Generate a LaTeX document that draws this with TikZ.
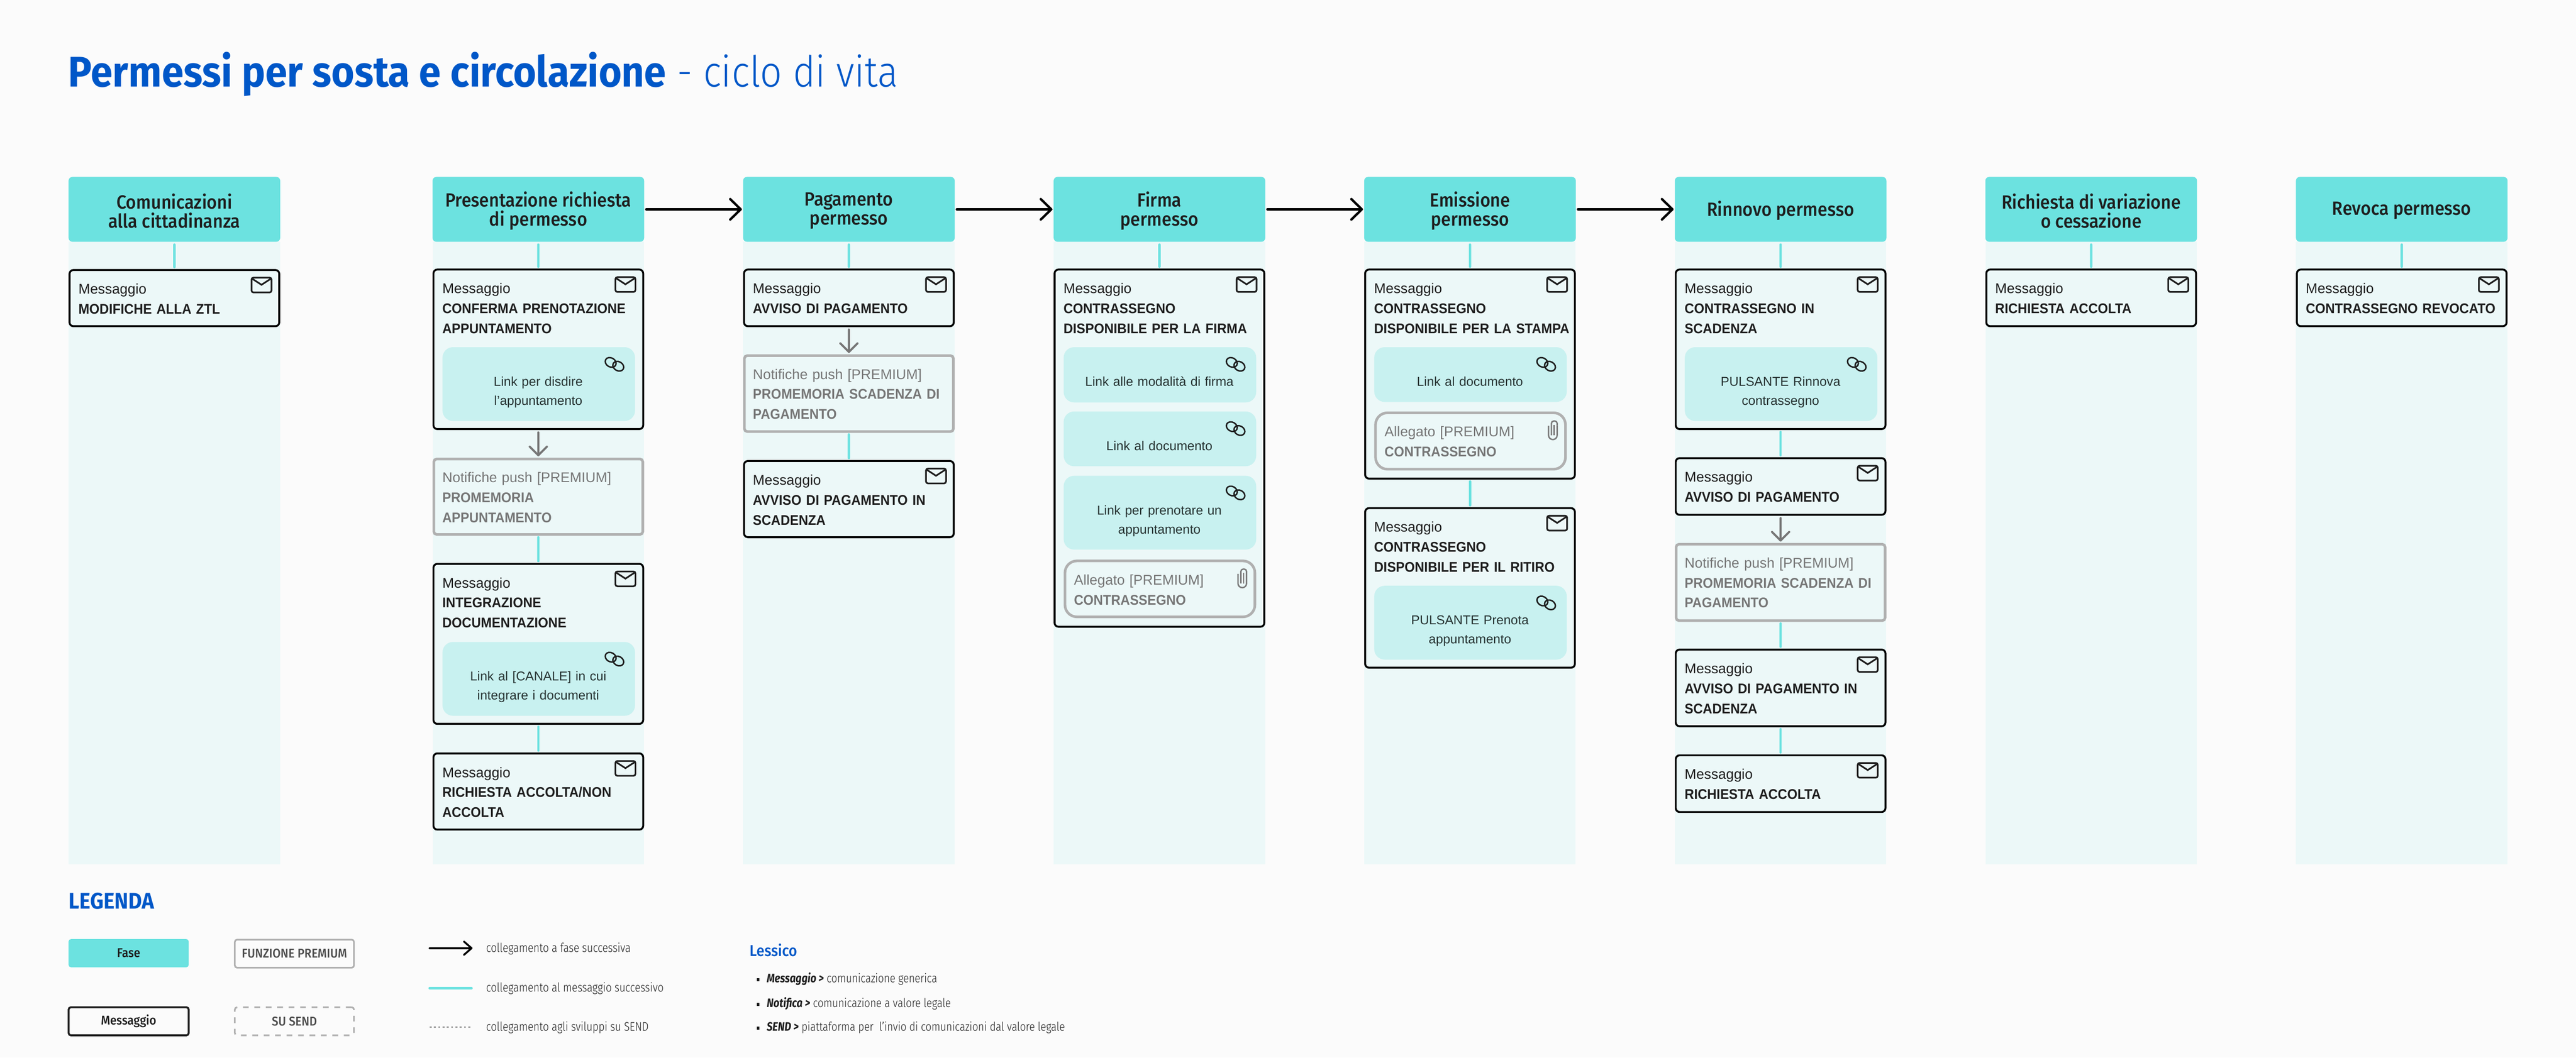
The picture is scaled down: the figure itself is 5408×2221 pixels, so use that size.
\documentclass[tikz,border=0pt]{standalone}
\usepackage{fontspec}
\setmainfont{Liberation Sans}
\newfontfamily\boldfont[FakeStretch=0.93]{Liberation Sans}
\newfontfamily\titlefont[FakeStretch=0.92]{Fira Sans}
\newfontfamily\headfont[FakeStretch=0.915]{Fira Sans Medium}
\newfontfamily\lessfont[FakeStretch=0.84]{Fira Sans}
\newfontfamily\lightfont[FakeStretch=0.84]{Fira Sans Light}
\newfontfamily\sublightfont[FakeStretch=0.895]{Fira Sans Light}
\usetikzlibrary{arrows.meta,positioning}
\definecolor{sfondo}{HTML}{FBFBFB}
\definecolor{colonna}{HTML}{ECF8F8}
\definecolor{acqua}{HTML}{6CE2E0}
\definecolor{linkcol}{HTML}{C8F1F0}
\definecolor{blu}{HTML}{0057C8}
\definecolor{testo}{HTML}{1E1E1E}
\definecolor{grigio}{HTML}{B0B0B0}
\definecolor{grigiotxt}{HTML}{767676}
\tikzset{
  fase/.style={anchor=north west, fill=acqua, rounded corners=.08cm, minimum width=4.44cm, minimum height=1.36cm, inner sep=0pt, outer sep=0pt},
  fasetxt/.style={inner sep=0pt, yshift=-.03cm, align=center, text=testo, font=\headfont\fontsize{11.4}{11.3}\selectfont},
  msg/.style={anchor=north west, draw=black, line width=.04cm, rounded corners=.08cm, minimum width=4.4cm, inner sep=0pt, outer sep=0pt},
  prem/.style={anchor=north west, draw=grigio, line width=.055cm, rounded corners=.06cm, minimum width=4.385cm, inner sep=0pt, outer sep=0pt},
  allegato/.style={anchor=north west, draw=grigio, line width=.055cm, rounded corners=.25cm, minimum width=3.985cm, inner sep=0pt, outer sep=0pt},
  linkbox/.style={anchor=north west, fill=linkcol, rounded corners=.22cm, minimum width=4.04cm, inner sep=0pt, outer sep=0pt},
  msgtxt/.style={anchor=north west, inner sep=0pt, text width=4.22cm, align=left, text=testo, font=\fontsize{8.4}{11.95}\selectfont},
  linktxt/.style={anchor=north, inner sep=0pt, text width=3.9cm, align=center, text={testo!90!acqua}, font=\fontsize{7.7}{11.38}\selectfont},
  freccia/.style={line width=.05cm, line cap=round, black, shorten <=.045cm, shorten >=.025cm, -{Straight Barb[length=.22cm,width=.43cm,round]}},
  frecciagr/.style={line width=.045cm, line cap=round, grigiotxt, shorten <=.07cm, shorten >=.055cm, -{Straight Barb[length=.18cm,width=.36cm,round]}},
  tratto/.style={line width=.05cm, line cap=round, acqua, shorten <=.06cm, shorten >=.06cm},
  icona/.style={draw=testo, line width=.035cm},
  legtxt/.style={anchor=base west, inner sep=0pt, text=testo, font=\lightfont\fontsize{7.4}{9}\selectfont},
  lestxt/.style={anchor=base west, inner sep=0pt, text=testo, font=\lightfont\fontsize{7.3}{9}\selectfont},
  legbox/.style={anchor=north west, inner sep=0pt, outer sep=0pt, minimum height=.59cm, font=\headfont\fontsize{7.6}{9}\selectfont},
  busta/.pic={
    \draw[icona, rounded corners=.04cm] (0,0) -- (0,31) -- (42,31) -- (42,0) -- cycle;
    \draw[icona] (1,2) -- (21,15) -- (41,2);
  },
  catena/.pic={
    \draw[icona, line width=.03cm] (13,12) ellipse [x radius=12, y radius=9.5, rotate=-30];
    \draw[icona, line width=.03cm] (29,20) ellipse [x radius=12, y radius=9.5, rotate=-30];
  },
  graffetta/.pic={
    \draw[grigio!70!black, line width=.03cm, rounded corners=.09cm] (1,10) -- (1,39) -- (19,39) -- (19,10);
    \draw[grigio!70!black, line width=.03cm, rounded corners=.05cm] (7,30) -- (7,0) -- (19,0) -- (19,10);
    \draw[grigio!70!black, line width=.03cm] (13,8) -- (13,30);
  }
}
% nome, colonna, alto, basso, testo
\newcommand{\msgbox}[5]{
  \node[msg, minimum height={(#4-#3-4)*0.01cm}] (#1) at (#2+2,#3+2) {};
  \node[msgtxt] (#1txt) at (#2+20,#3+22) {\strut Messaggio\\{\boldfont\bfseries #5}};
  \pic at (#2+384,#3+18) {busta};
}
\newcommand{\prembox}[5]{
  \node[prem, minimum height={(#4-#3-5.5)*0.01cm}] (#1) at (#2+2.75,#3+2.75) {};
  \node[msgtxt, text=grigiotxt] (#1txt) at (#2+20,#3+22) {\strut Notifiche push [PREMIUM]\\{\boldfont\bfseries #5}};
}
\newcommand{\collega}[5]{
  \node[linkbox, minimum height={(#4-#3)*0.01cm}] (#1) at (#2+21,#3) {};
  \node[linktxt] (#1txt) at (#2+222,#3+53) {\strut #5};
  \pic at (#2+361,#3+20) {catena};
}
\newcommand{\allegatobox}[4]{
  \node[allegato, minimum height={(#4-#3-5.5)*0.01cm}] (#1) at (#2+23.75,#3+2.75) {};
  \node[msgtxt, text=grigiotxt] (#1txt) at (#2+42,#3+23) {\strut Allegato [PREMIUM]\\{\boldfont\bfseries CONTRASSEGNO}};
  \pic at (#2+386,#3+20) {graffetta};
}
\begin{document}
\begin{tikzpicture}[x=0.01cm, y=-0.01cm]
  \fill[sfondo] (0,0) rectangle (5408,2221);
  \node[anchor=base west, inner sep=0pt, text=blu, font=\titlefont\bfseries\fontsize{25.6}{30}\selectfont] (titolo) at (143,182) {Permessi per sosta e circolazione};
  \node[anchor=base west, inner sep=0pt, text=blu, font=\sublightfont\fontsize{25.6}{30}\selectfont] (sottotitolo) at (1421,182) {- ciclo di vita};

  % colonne e fasi
  \foreach \x/\name/\head in {144/com/{Comunicazioni\\alla cittadinanza},908/pres/{Presentazione richiesta\\di permesso},1560/pag/{Pagamento\\permesso},2212/fir/{Firma\\permesso},2864/emi/{Emissione\\permesso},3516/rin/{Rinnovo permesso},4168/var/{Richiesta di variazione\\o cessazione},4820/rev/{Revoca permesso}}{
    \fill[colonna] (\x,507) rectangle (\x+444,1815);
    \node[fase] (\name) at (\x,371.5) {};
    \node[fasetxt] (\name txt) at (\name) {\head};
  }
  \foreach \a/\b in {pres/pag,pag/fir,fir/emi,emi/rin}{\draw[freccia] (\a) -- (\b);}

  % messaggi
  \msgbox{com1}{144}{565}{687}{MODIFICHE ALLA ZTL}

  \msgbox{pres1}{908}{564}{903}{CONFERMA PRENOTAZIONE\\APPUNTAMENTO}
  \collega{pres1a}{908}{729}{884}{Link per disdire\\l’appuntamento}
  \prembox{pres2}{908}{961}{1125}{PROMEMORIA\\APPUNTAMENTO}
  \msgbox{pres3}{908}{1182}{1522}{INTEGRAZIONE\\DOCUMENTAZIONE}
  \collega{pres3a}{908}{1348}{1503}{Link al [CANALE] in cui\\integrare i documenti}
  \msgbox{pres4}{908}{1580}{1744}{RICHIESTA ACCOLTA/NON\\ACCOLTA}

  \msgbox{pag1}{1560}{564}{687}{AVVISO DI PAGAMENTO}
  \prembox{pag2}{1560}{744}{909}{PROMEMORIA SCADENZA DI\\PAGAMENTO}
  \msgbox{pag3}{1560}{966}{1130}{AVVISO DI PAGAMENTO IN\\SCADENZA}

  \msgbox{fir1}{2212}{564}{1318}{CONTRASSEGNO\\DISPONIBILE PER LA FIRMA}
  \collega{fir1a}{2212}{729}{845}{Link alle modalità di firma}
  \collega{fir1b}{2212}{864}{979}{Link al documento}
  \collega{fir1c}{2212}{999}{1154}{Link per prenotare un\\appuntamento}
  \allegatobox{fir1d}{2212}{1175}{1298}

  \msgbox{emi1}{2864}{564}{1007}{CONTRASSEGNO\\DISPONIBILE PER LA STAMPA}
  \collega{emi1a}{2864}{729}{844}{Link al documento}
  \allegatobox{emi1b}{2864}{864}{988}
  \msgbox{emi2}{2864}{1065}{1404}{CONTRASSEGNO\\DISPONIBILE PER IL RITIRO}
  \collega{emi2a}{2864}{1230}{1385}{PULSANTE Prenota\\appuntamento}

  \msgbox{rin1}{3516}{564}{903}{CONTRASSEGNO IN\\SCADENZA}
  \collega{rin1a}{3516}{729}{884}{PULSANTE Rinnova\\contrassegno}
  \msgbox{rin2}{3516}{960}{1083}{AVVISO DI PAGAMENTO}
  \prembox{rin3}{3516}{1140}{1306}{PROMEMORIA SCADENZA DI\\PAGAMENTO}
  \msgbox{rin4}{3516}{1362}{1527}{AVVISO DI PAGAMENTO IN\\SCADENZA}
  \msgbox{rin5}{3516}{1584}{1707}{RICHIESTA ACCOLTA}

  \msgbox{var1}{4168}{564}{687}{RICHIESTA ACCOLTA}
  \msgbox{rev1}{4820}{564}{687}{CONTRASSEGNO REVOCATO}

  % collegamenti
  \foreach \a/\b in {com/com1,pres/pres1,pres2/pres3,pres3/pres4,pag/pag1,pag2/pag3,fir/fir1,emi/emi1,emi1/emi2,rin/rin1,rin1/rin2,rin3/rin4,rin4/rin5,var/var1,rev/rev1}{\draw[tratto] (\a) -- (\b);}
  \foreach \a/\b in {pres1/pres2,pag1/pag2,rin2/rin3}{\draw[frecciagr] (\a) -- (\b);}

  % legenda
  \node[anchor=base west, inner sep=0pt, text=blu, font=\titlefont\bfseries\fontsize{13.5}{15}\selectfont] (legenda) at (144,1908) {LEGENDA};
  \node[legbox, fill=acqua, rounded corners=.05cm, minimum width=2.52cm, text=testo] (legfase) at (144,1972) {Fase};
  \node[legbox, draw=grigio, line width=.035cm, rounded corners=.05cm, minimum width=2.5cm, text=black!70] (legprem) at (493,1973) {FUNZIONE PREMIUM};
  \node[legbox, draw=testo, line width=.04cm, rounded corners=.05cm, minimum width=2.52cm, text=testo] (legmsg) at (144,2115) {Messaggio};
  \node[legbox, draw=grigio, line width=.035cm, rounded corners=.05cm, dash pattern=on .12cm off .12cm, minimum width=2.5cm, text=black!70] (legsend) at (493,2115) {SU SEND};

  \coordinate (fr1a) at (902,1991);
  \coordinate (fr1b) at (992,1991);
  \coordinate (fr2a) at (902,2075);
  \coordinate (fr2b) at (990,2075);
  \coordinate (fr3a) at (902,2157);
  \coordinate (fr3b) at (990,2157);
  \draw[freccia, line width=.04cm, shorten <=0pt, shorten >=0pt, -{Straight Barb[length=.16cm,width=.28cm,round]}] (fr1a) -- (fr1b);
  \draw[tratto, shorten <=0pt, shorten >=0pt] (fr2a) -- (fr2b);
  \draw[grigiotxt, line width=.02cm, dash pattern=on .04cm off .05cm] (fr3a) -- (fr3b);
  \node[legtxt] (leg1) at (1020,1999) {collegamento a fase successiva};
  \node[legtxt] (leg2) at (1020,2083) {collegamento al messaggio successivo};
  \node[legtxt] (leg3) at (1020,2165) {collegamento agli sviluppi su SEND};

  % lessico
  \node[anchor=base west, inner sep=0pt, text=blu, font=\headfont\fontsize{9.4}{11}\selectfont] (lessico) at (1573,2008) {Lessico};
  \foreach \y in {2057,2109,2159}{\fill[testo] (1589,\y-3) rectangle (1594,\y+3);}
  \node[lestxt] (les1) at (1609,2063) {{\lessfont\bfseries\itshape Messaggio >} comunicazione generica};
  \node[lestxt] (les2) at (1609,2115) {{\lessfont\bfseries\itshape Notifica >} comunicazione a valore legale};
  \node[lestxt] (les3) at (1609,2165) {{\lessfont\bfseries\itshape SEND >} piattaforma per\ \ l’invio di comunicazioni dal valore legale};
\end{tikzpicture}
\end{document}
